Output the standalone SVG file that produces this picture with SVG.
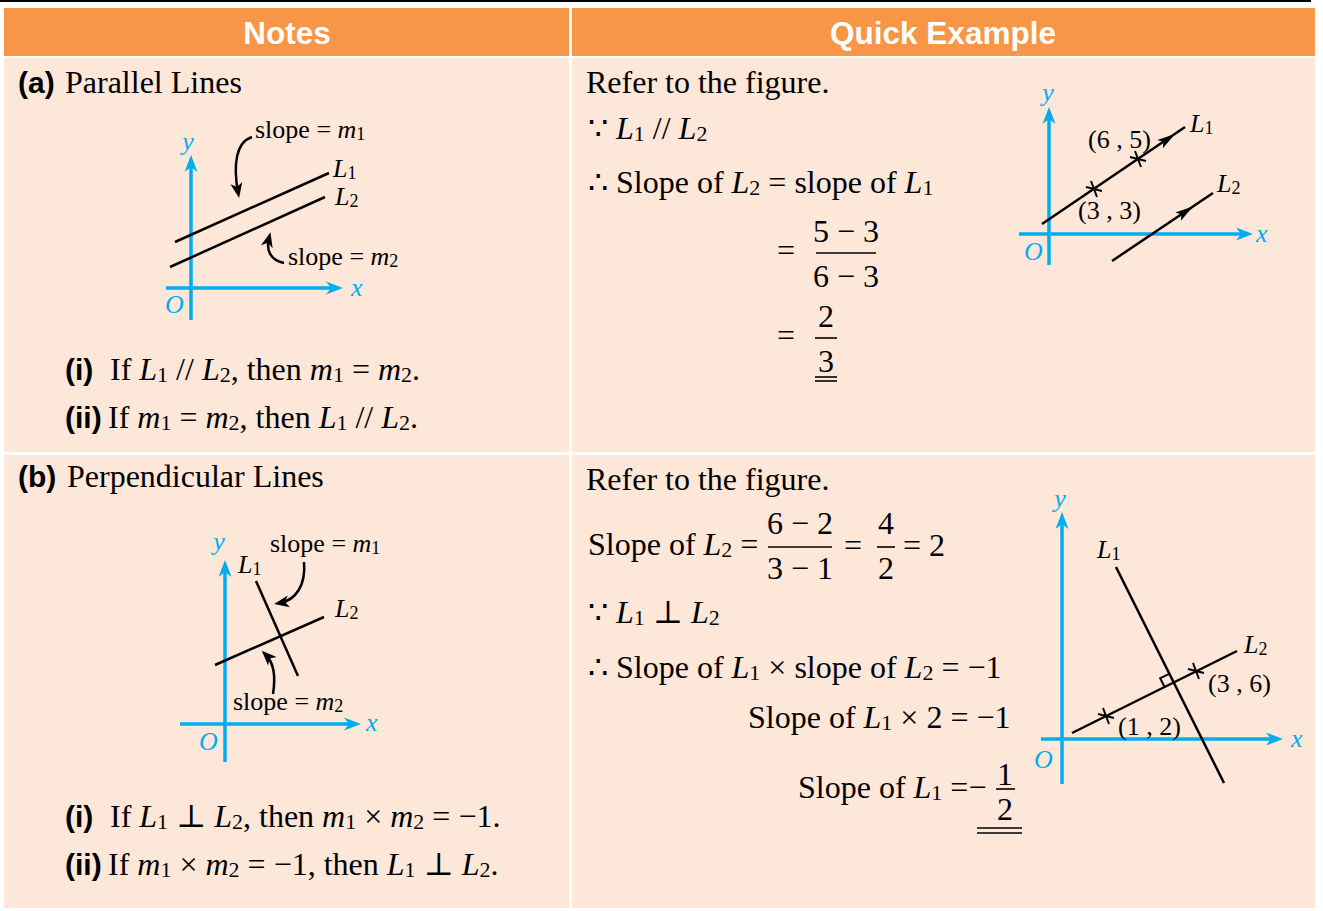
<svg xmlns="http://www.w3.org/2000/svg" width="1323" height="911" viewBox="0 0 1323 911">
<style>
.t{font-family:"Liberation Serif","DejaVu Serif",serif;font-size:32px;fill:#000}
.i{font-style:italic}
.s{font-size:22px;font-style:normal}
.ss{font-size:18px;font-style:normal}
.b{font-family:"Liberation Sans",Arial,sans-serif;font-weight:bold;font-size:30px;fill:#000}
.h{font-family:"Liberation Sans",Arial,sans-serif;font-weight:bold;font-size:31.5px;fill:#fff;text-anchor:middle}
.lb{font-family:"Liberation Serif","DejaVu Serif",serif;font-size:26px;fill:#000}
.ax{font-family:"Liberation Serif",serif;font-style:italic;font-size:26px;fill:#00AEEF}
.m{text-anchor:middle}
.axis{stroke:#00AEEF;stroke-width:3.5;fill:none;marker-end:url(#ab)}
.ln{stroke:#000;stroke-width:2.5;fill:none}
.tk{stroke:#000;stroke-width:2;fill:none}
.cv{stroke:#000;stroke-width:2.5;fill:none;marker-end:url(#ak)}
.bar{stroke:#000;stroke-width:1.6}
.hd{fill:#F79646}
.cell{fill:#FCE7D9}
</style>
<defs>
<marker id="ab" viewBox="-12 -8 20 16" refX="0" refY="0" markerWidth="20" markerHeight="16" markerUnits="userSpaceOnUse" orient="auto"><path d="M7,0 L-10,-6.5 L-5,0 L-10,6.5 Z" fill="#00AEEF"/></marker>
<marker id="ak" viewBox="-12 -8 20 16" refX="0" refY="0" markerWidth="20" markerHeight="16" markerUnits="userSpaceOnUse" orient="auto"><path d="M6,0 L-9,-6 L-5,0 L-9,6 Z" fill="#000"/></marker>
<path id="mid" d="M0,0 L-18,-5 L-14,0 L-18,5 Z" fill="#000"/>
<g id="cross"><path d="M-3,-8 L3,8 M-8,-2 L8,2" stroke="#000" stroke-width="2"/></g>
</defs>
<rect width="1323" height="911" fill="#fff"/>
<rect x="0" y="0" width="1311" height="2" fill="#000"/>

<g id="table">
<rect class="hd" x="4" y="8" width="565" height="48"/>
<rect class="hd" x="572" y="8" width="743" height="48"/>
<rect class="cell" x="4" y="58" width="565" height="394"/>
<rect class="cell" x="572" y="58" width="743" height="394"/>
<rect class="cell" x="4" y="455" width="565" height="453"/>
<rect class="cell" x="572" y="455" width="743" height="453"/>
<text class="h" x="287" y="44">Notes</text>
<text class="h" x="943" y="44">Quick Example</text>
</g>

<g id="notes-a">
<text class="b" x="18" y="93">(a)</text>
<text class="t" x="65" y="93">Parallel Lines</text>
<text class="b" x="65" y="380">(i)</text>
<text class="t" x="110" y="380">If <tspan class="i">L</tspan><tspan class="s" dy="2">1</tspan><tspan dy="-2"> // </tspan><tspan class="i">L</tspan><tspan class="s" dy="2">2</tspan><tspan dy="-2">, then </tspan><tspan class="i">m</tspan><tspan class="s" dy="2">1</tspan><tspan dy="-2"> = </tspan><tspan class="i">m</tspan><tspan class="s" dy="2">2</tspan><tspan dy="-2">.</tspan></text>
<text class="b" x="65" y="428">(ii)</text>
<text class="t" x="108" y="428">If <tspan class="i">m</tspan><tspan class="s" dy="2">1</tspan><tspan dy="-2"> = </tspan><tspan class="i">m</tspan><tspan class="s" dy="2">2</tspan><tspan dy="-2">, then </tspan><tspan class="i">L</tspan><tspan class="s" dy="2">1</tspan><tspan dy="-2"> // </tspan><tspan class="i">L</tspan><tspan class="s" dy="2">2</tspan><tspan dy="-2">.</tspan></text>
</g>

<g id="fig-a-left">
<path class="axis" d="M191,320 V162"/>
<path class="axis" d="M166,288 H336"/>
<text class="ax m" x="188" y="150">y</text>
<text class="ax" x="351" y="296">x</text>
<text class="ax" x="165" y="313">O</text>
<path class="ln" d="M175,242 L329,173"/>
<path class="ln" d="M170,267 L325,197"/>
<text class="lb" x="333" y="177"><tspan class="i">L</tspan><tspan class="ss" dy="2">1</tspan></text>
<text class="lb" x="335" y="205"><tspan class="i">L</tspan><tspan class="ss" dy="2">2</tspan></text>
<text class="lb" x="255" y="138">slope = <tspan class="i">m</tspan><tspan class="ss" dy="2">1</tspan></text>
<text class="lb" x="288" y="265">slope = <tspan class="i">m</tspan><tspan class="ss" dy="2">2</tspan></text>
</g>

<g id="notes-b">
<text class="b" x="18" y="487">(b)</text>
<text class="t" x="67" y="487">Perpendicular Lines</text>
<text class="b" x="65" y="827">(i)</text>
<text class="t" x="110" y="827">If <tspan class="i">L</tspan><tspan class="s" dy="2">1</tspan><tspan dy="-2"> ⊥ </tspan><tspan class="i">L</tspan><tspan class="s" dy="2">2</tspan><tspan dy="-2">, then </tspan><tspan class="i">m</tspan><tspan class="s" dy="2">1</tspan><tspan dy="-2"> × </tspan><tspan class="i">m</tspan><tspan class="s" dy="2">2</tspan><tspan dy="-2"> = −1.</tspan></text>
<text class="b" x="65" y="875">(ii)</text>
<text class="t" x="108" y="875">If <tspan class="i">m</tspan><tspan class="s" dy="2">1</tspan><tspan dy="-2"> × </tspan><tspan class="i">m</tspan><tspan class="s" dy="2">2</tspan><tspan dy="-2"> = −1, then </tspan><tspan class="i">L</tspan><tspan class="s" dy="2">1</tspan><tspan dy="-2"> ⊥ </tspan><tspan class="i">L</tspan><tspan class="s" dy="2">2</tspan><tspan dy="-2">.</tspan></text>
</g>

<g id="fig-b-left">
<path class="axis" d="M225,762 V567"/>
<path class="axis" d="M180,724 H354"/>
<text class="ax m" x="219" y="550">y</text>
<text class="ax" x="366" y="731">x</text>
<text class="ax" x="199" y="750">O</text>
<path class="ln" d="M256,581 L298,676"/>
<path class="ln" d="M215,665 L324,617"/>
<text class="lb" x="238" y="573"><tspan class="i">L</tspan><tspan class="ss" dy="2">1</tspan></text>
<text class="lb" x="335" y="617"><tspan class="i">L</tspan><tspan class="ss" dy="2">2</tspan></text>
<text class="lb" x="270" y="552">slope = <tspan class="i">m</tspan><tspan class="ss" dy="2">1</tspan></text>
<text class="lb" x="233" y="710">slope = <tspan class="i">m</tspan><tspan class="ss" dy="2">2</tspan></text>
</g>

<g id="example-a">
<text class="t" x="586" y="93">Refer to the figure.</text>
<text class="t" x="588" y="139">∵ <tspan class="i">L</tspan><tspan class="s" dy="2">1</tspan><tspan dy="-2"> // </tspan><tspan class="i">L</tspan><tspan class="s" dy="2">2</tspan></text>
<text class="t" x="588" y="193">∴ Slope of <tspan class="i">L</tspan><tspan class="s" dy="2">2</tspan><tspan dy="-2"> = slope of </tspan><tspan class="i">L</tspan><tspan class="s" dy="2">1</tspan></text>
<text class="t" x="777" y="261">=</text>
<text class="t m" x="846" y="242">5 − 3</text>
<line class="bar" x1="816" y1="253" x2="876" y2="253"/>
<text class="t m" x="846" y="287">6 − 3</text>
<text class="t" x="777" y="346">=</text>
<text class="t m" x="826" y="327">2</text>
<line class="bar" x1="815" y1="338" x2="837" y2="338"/>
<text class="t m" x="826" y="372">3</text>
<line class="bar" x1="815" y1="377" x2="837" y2="377"/>
<line class="bar" x1="815" y1="381" x2="837" y2="381"/>
</g>

<g id="fig-a-right">
<path class="axis" d="M1049,265 V114"/>
<path class="axis" d="M1019,234 H1246"/>
<text class="ax m" x="1048" y="101">y</text>
<text class="ax" x="1256" y="242">x</text>
<text class="ax" x="1024" y="260">O</text>
<path class="ln" d="M1042,224 L1185,127"/>
<path class="ln" d="M1112,261 L1213,193"/>
<use href="#mid" transform="translate(1175,134) rotate(-34.1)"/>
<use href="#mid" transform="translate(1193,206.5) rotate(-34)"/>
<use href="#cross" transform="translate(1138,159)"/>
<use href="#cross" transform="translate(1094,189)"/>
<text class="lb" x="1088" y="148">(6 , 5)</text>
<text class="lb" x="1078" y="219">(3 , 3)</text>
<text class="lb" x="1190" y="132"><tspan class="i">L</tspan><tspan class="ss" dy="2">1</tspan></text>
<text class="lb" x="1217" y="192"><tspan class="i">L</tspan><tspan class="ss" dy="2">2</tspan></text>
</g>

<g id="example-b">
<text class="t" x="586" y="490">Refer to the figure.</text>
<text class="t" x="588" y="555">Slope of <tspan class="i">L</tspan><tspan class="s" dy="2">2</tspan><tspan dy="-2"> =</tspan></text>
<text class="t m" x="800" y="534">6 − 2</text>
<line class="bar" x1="768" y1="547" x2="832" y2="547"/>
<text class="t m" x="800" y="579">3 − 1</text>
<text class="t" x="844" y="556">=</text>
<text class="t m" x="886" y="534">4</text>
<line class="bar" x1="877" y1="547" x2="895" y2="547"/>
<text class="t m" x="886" y="579">2</text>
<text class="t" x="903" y="556">= 2</text>
<text class="t" x="588" y="623">∵ <tspan class="i">L</tspan><tspan class="s" dy="2">1</tspan><tspan dy="-2"> ⊥ </tspan><tspan class="i">L</tspan><tspan class="s" dy="2">2</tspan></text>
<text class="t" x="588" y="678">∴ Slope of <tspan class="i">L</tspan><tspan class="s" dy="2">1</tspan><tspan dy="-2"> × slope of </tspan><tspan class="i">L</tspan><tspan class="s" dy="2">2</tspan><tspan dy="-2"> = −1</tspan></text>
<text class="t" x="748" y="728">Slope of <tspan class="i">L</tspan><tspan class="s" dy="2">1</tspan><tspan dy="-2"> × 2 = −1</tspan></text>
<text class="t" x="798" y="798">Slope of <tspan class="i">L</tspan><tspan class="s" dy="2">1</tspan><tspan dy="-2"> =−</tspan></text>
<text class="t m" x="1005" y="785">1</text>
<line class="bar" x1="996" y1="789" x2="1015" y2="789"/>
<text class="t m" x="1005" y="820">2</text>
<line class="bar" x1="977" y1="828" x2="1022" y2="828"/>
<line class="bar" x1="977" y1="833" x2="1022" y2="833"/>
</g>

<g id="fig-b-right">
<path class="axis" d="M1062,784 V519"/>
<path class="axis" d="M1041,739 H1276"/>
<text class="ax m" x="1060" y="507">y</text>
<text class="ax" x="1291" y="747">x</text>
<text class="ax" x="1034" y="768">O</text>
<path class="ln" d="M1116,567 L1224,783"/>
<path class="ln" d="M1072,733 L1237,651"/>
<path class="tk" d="M1164.7,687.2 L1160.2,678.2 L1169.2,673.8"/>
<use href="#cross" transform="translate(1106,716)"/>
<use href="#cross" transform="translate(1196,671)"/>
<text class="lb" x="1097" y="558"><tspan class="i">L</tspan><tspan class="ss" dy="2">1</tspan></text>
<text class="lb" x="1244" y="653"><tspan class="i">L</tspan><tspan class="ss" dy="2">2</tspan></text>
<text class="lb" x="1118" y="735">(1 , 2)</text>
<text class="lb" x="1208" y="692">(3 , 6)</text>
</g>

<g id="connectors">
<path class="cv" d="M252,137 C236,142 233,165 238,192"/>
<path class="cv" d="M284,263 C270,260 266,250 269,238"/>
<path class="cv" d="M304,562 C306,585 296,600 280,603"/>
<path class="cv" d="M273,694 C276,675 273,662 266,655"/>
</g>
</svg>
